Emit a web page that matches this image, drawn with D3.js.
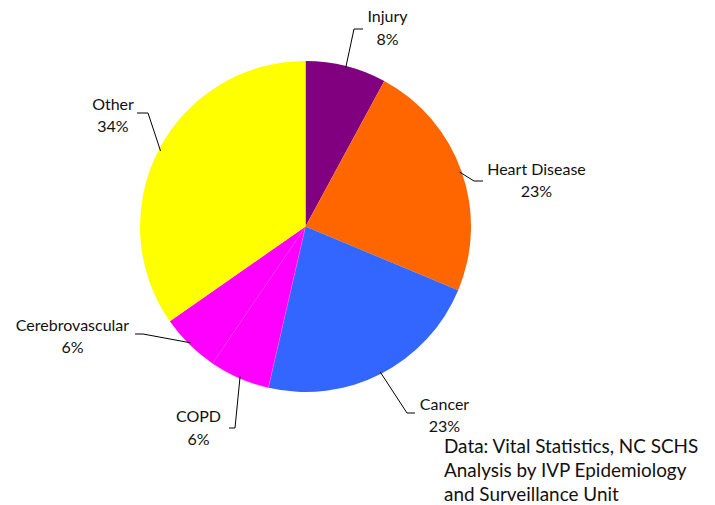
<!DOCTYPE html>
<html><head><meta charset="utf-8">
<script src="https://cdn.jsdelivr.net/npm/d3@7"></script>
<style>body{margin:0;background:#fff}text{font-family:Lato,"Open Sans",sans-serif;fill:#111}</style>
</head><body><svg id="c" width="715" height="505"></svg>
<script>
const categories = ["Injury","Heart Disease","Cancer","COPD","Cerebrovascular","Other"];
const values = [7.9, 23.4, 22.3, 5.9, 5.8, 34.7];
const pctLabels = ["8%","23%","23%","6%","6%","34%"];
const colors = ["#800080","#FF6600","#3366FF","#FF00FF","#FF00FF","#FFFF00"];
const footnote = ["Data: Vital Statistics, NC SCHS","Analysis by IVP Epidemiology","and Surveillance Unit"];

// label layout (text centre x, baselines; leader elbow and end)
const labelLayout = [
  {x:387.5, y:22,  y2:45,  elbow:[354,29],  end:[363,29]},
  {x:536.5, y:175, y2:197, elbow:[474,181], end:[483,181]},
  {x:444.5, y:410, y2:432, elbow:[407,413], end:[415,413]},
  {x:198.5, y:422, y2:445, elbow:[235,428], end:[229,428]},
  {x:72.5,  y:331, y2:353, elbow:[143,334], end:[135,334]},
  {x:113,   y:110, y2:132, elbow:[148,113], end:[137,113]}
];

const svg = d3.select("#c");
const cx = 305.5, cy = 226.5, R = 165.5;
const g = svg.append("g").attr("transform",`translate(${cx},${cy})`);
const pie = d3.pie().sort(null).value(d=>d)(values);
const arc = d3.arc().innerRadius(0).outerRadius(R);
g.selectAll("path").data(pie).join("path")
  .attr("d",arc).attr("fill",(d,i)=>colors[i])
  .attr("stroke",(d,i)=>i===3?"#ff66ff":"none").attr("stroke-width",0.4);

const edge = d3.arc().innerRadius(R-2).outerRadius(R-2);
pie.forEach((d,i)=>{
  const [px,py] = edge.centroid(d);
  const L = labelLayout[i];
  svg.append("polyline")
    .attr("points",`${px+cx},${py+cy} ${L.elbow[0]},${L.elbow[1]} ${L.end[0]},${L.end[1]}`)
    .attr("fill","none").attr("stroke","#000").attr("stroke-width",1);
  svg.append("text").attr("x",L.x).attr("y",L.y).attr("text-anchor","middle")
    .attr("font-size",16).text(categories[i]);
  svg.append("text").attr("x",L.x).attr("y",L.y2).attr("text-anchor","middle")
    .attr("font-size",16).text(pctLabels[i]);
});

footnote.forEach((t,i)=>{
  svg.append("text").attr("x",444).attr("y",453+i*24)
    .attr("font-size",18.9).text(t);
});
</script></body></html>
